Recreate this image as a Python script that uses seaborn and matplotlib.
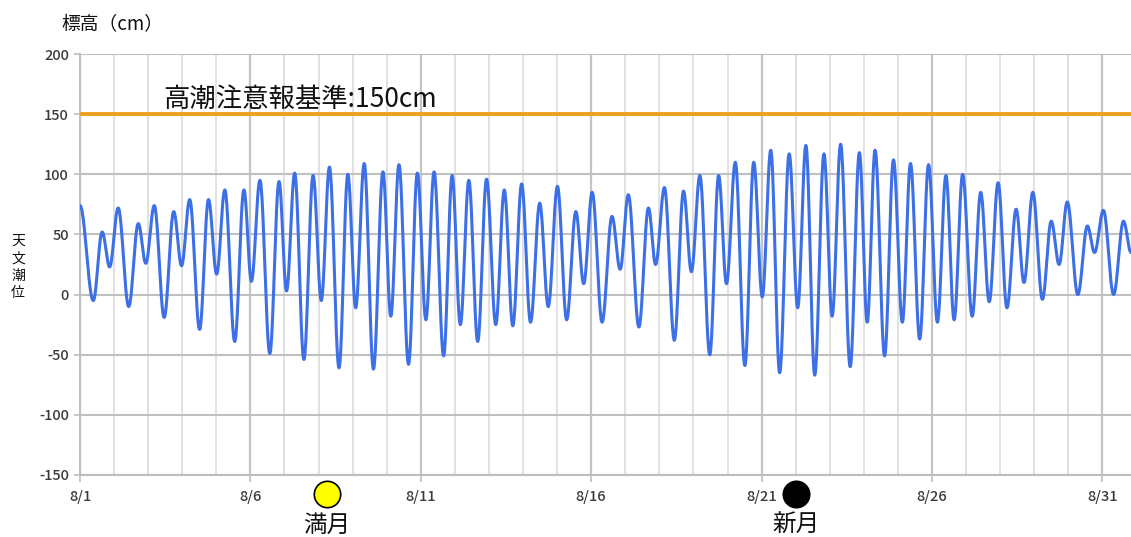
import numpy as np
import pandas as pd
import matplotlib
matplotlib.use("Agg")
import matplotlib.pyplot as plt
import seaborn as sns

# ---- data ----
# times of successive high/low waters, in days since 8/1 00:00
tide_days = [0.00, 0.39, 0.65, 0.87, 1.12, 1.43, 1.71, 1.93, 2.18, 2.47,
             2.75, 2.98, 3.22, 3.51, 3.77, 4.01, 4.25, 4.54, 4.81, 5.03,
             5.28, 5.57, 5.84, 6.06, 6.30, 6.57, 6.84, 7.08, 7.32, 7.60,
             7.86, 8.09, 8.34, 8.61, 8.89, 9.12, 9.36, 9.64, 9.90, 10.15,
             10.39, 10.67, 10.92, 11.16, 11.41, 11.67, 11.93, 12.20, 12.45, 12.70,
             12.96, 13.22, 13.49, 13.74, 14.01, 14.28, 14.55, 14.78, 15.03, 15.32,
             15.61, 15.85, 16.09, 16.40, 16.68, 16.89, 17.15, 17.44, 17.71, 17.94,
             18.19, 18.48, 18.74, 18.97, 19.23, 19.51, 19.77, 20.02, 20.27,
             20.53, 20.81, 21.06, 21.30, 21.56, 21.83, 22.07, 22.32, 22.60, 22.87,
             23.10, 23.33, 23.61, 23.87, 24.13, 24.37, 24.64, 24.90, 25.16, 25.41,
             25.65, 25.90, 26.18, 26.43, 26.68, 26.94, 27.20, 27.47, 27.70, 27.96,
             28.24, 28.50, 28.73, 28.97, 29.28, 29.56, 29.77, 30.03, 30.33, 30.62,
             30.84]
# tide level (cm) at those times
tide_cm = [74, -5, 52, 23, 72, -10, 59, 26, 74, -19,
           69, 24, 79, -29, 79, 17, 87, -39, 87, 11,
           95, -49, 94, 3, 101, -54, 99, -5, 106, -61,
           100, -11, 109, -62, 102, -18, 108, -58, 101, -21,
           102, -51, 99, -25, 95, -39, 96, -25, 87, -26,
           92, -23, 76, -10, 90, -21, 69, 9, 85, -23,
           65, 21, 83, -27, 72, 25, 89, -38, 86, 19,
           99, -50, 99, 9, 110, -59, 110, -2, 120,
           -65, 117, -11, 124, -67, 117, -18, 125, -60, 118,
           -23, 120, -51, 112, -23, 109, -37, 108, -23, 99,
           -21, 100, -18, 85, -6, 93, -11, 71, 10, 85,
           -4, 61, 25, 77, 0, 57, 35, 70, 0, 61,
           35]

alert_level = 150
alert_label = "高潮注意報基準:150cm"

xtick_days = [0, 5, 10, 15, 20, 25, 30]
xtick_labels = ["8/1", "8/6", "8/11", "8/16", "8/21", "8/26", "8/31"]
ytick_values = [-150, -100, -50, 0, 50, 100, 150, 200]

moon_days = [7.24, 21.0]
moon_labels = ["満月", "新月"]
moon_colors = ["#ffff00", "#000000"]

y_title = "標高（cm）"
y_side_label = "天文潮位"

# ---- smooth tide curve between successive extremes (half-cosine shape) ----
tt, vv = [], []
for i in range(len(tide_days) - 1):
    s = np.linspace(0, 1, 25, endpoint=False)
    t0, t1 = tide_days[i], tide_days[i + 1]
    v0, v1 = tide_cm[i], tide_cm[i + 1]
    tt.extend(t0 + s * (t1 - t0))
    vv.extend(v0 + (v1 - v0) * (1 - np.cos(np.pi * s)) / 2)
tt.append(tide_days[-1])
vv.append(tide_cm[-1])
df = pd.DataFrame({"day": tt, "cm": vv})

# ---- figure ----
sns.set_theme(style="white")
plt.rcParams["font.family"] = ["Noto Sans CJK JP", "DejaVu Sans"]

W, H = 1131, 537
fig = plt.figure(figsize=(W / 100, H / 100), dpi=100)
ax = fig.add_axes([80 / W, 1 - 475 / H, 1 - 80 / W, (475 - 54) / H])

ax.set_xlim(0, 30.84)
ax.set_ylim(-150, 200)

# grid
for d in range(0, 31):
    major = d % 5 == 0
    ax.axvline(d, color="#c4c4c4" if major else "#dedede",
               lw=1.6 if major else 1.3, zorder=0)
for y in ytick_values:
    ax.axhline(y, color="#c0c0c0", lw=1.5, zorder=0)

sns.lineplot(data=df, x="day", y="cm", ax=ax, color="#3d6fe6",
             linewidth=2.2, zorder=3, legend=False)

ax.axhline(alert_level, color="#f0a020", lw=2.8, zorder=4)
ax.text(2.45, alert_level + 1, alert_label, fontsize=19, color="#111111",
        ha="left", va="bottom", zorder=5)

for sp in ["top", "right"]:
    ax.spines[sp].set_visible(False)
ax.spines["left"].set_color("#c0c0c0")
ax.spines["left"].set_linewidth(1.5)
ax.spines["bottom"].set_color("#bdbdbd")
ax.spines["bottom"].set_linewidth(1.5)

ax.set_xticks(xtick_days)
ax.set_xticklabels(xtick_labels)
ax.set_yticks(ytick_values)
ax.set_yticklabels([str(v) for v in ytick_values])
ax.tick_params(axis="x", length=5, width=1.2, color="#bdbdbd", pad=6,
               labelsize=10.5, labelcolor="#3a3a3a", bottom=True)
ax.tick_params(axis="y", length=4, width=1.2, color="#bdbdbd", pad=4,
               labelsize=10.5, labelcolor="#3a3a3a", left=True)
for lab in ax.get_xticklabels() + ax.get_yticklabels():
    lab.set_fontweight("medium")
ax.set_xlabel("")
ax.set_ylabel("")

# moon phases
for d, lab, c in zip(moon_days, moon_labels, moon_colors):
    ax.plot([d], [-166], marker="o", markersize=19, markerfacecolor=c,
            markeredgecolor="black", markeredgewidth=1.2, clip_on=False, zorder=6)
    ax.text(d, -192, lab, fontsize=17, ha="center", va="center",
            color="#111111", clip_on=False)

fig.text(61 / W, 1 - 25 / H, y_title, fontsize=13.5, ha="left", va="center",
         color="#111111")
fig.text(18 / W, 1 - 267 / H, "\n".join(y_side_label), fontsize=10,
         ha="center", va="center", color="#111111", linespacing=1.3)

fig.savefig("out.png", dpi=100)
